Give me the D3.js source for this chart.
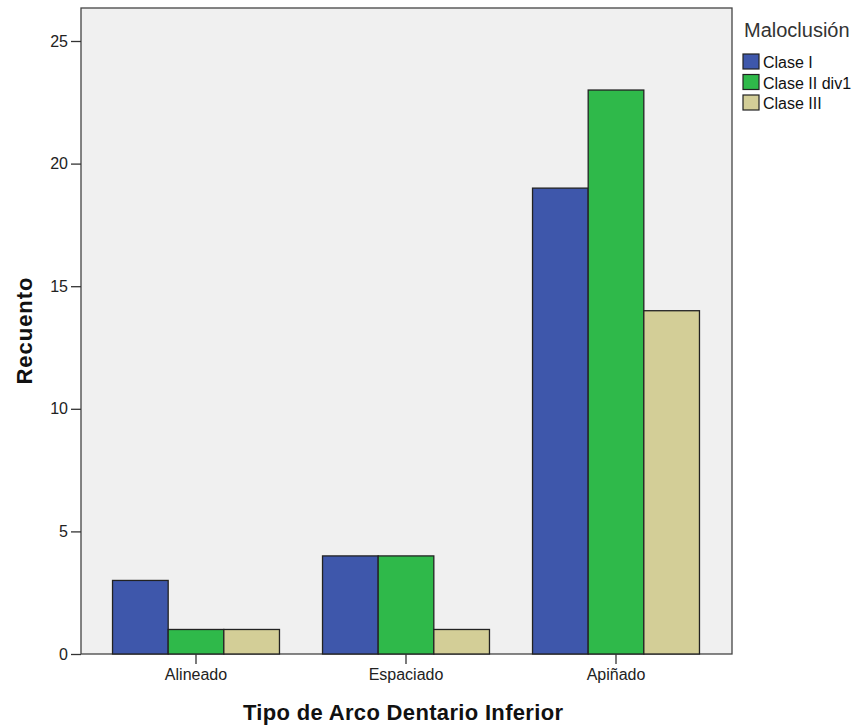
<!DOCTYPE html>
<html>
<head>
<meta charset="utf-8">
<script src="https://cdn.jsdelivr.net/npm/d3@7"></script>
<style>
  body { margin: 0; background: #fff; }
  text { font-family: Arial, "Liberation Sans", sans-serif; }
</style>
</head>
<body>
<svg id="chart" width="857" height="725"></svg>
<script>
// data
const categories = ['Alineado', 'Espaciado', 'Apiñado'];
const seriesNames = ['Clase I', 'Clase II div1', 'Clase III'];
const counts = {
    'Clase I': [3, 4, 19],
    'Clase II div1': [1, 4, 23],
    'Clase III': [1, 1, 14]
};
const yTicks = [0, 5, 10, 15, 20, 25];
const colors = ['#3e57ab', '#2fb94a', '#d3ce97'];

const svg = d3.select('#chart');
const frame = {left: 81, right: 732, top: 8, bottom: 654};

let x = d3.scaleBand()
    .domain(categories)
    .range([frame.left + 10, frame.right - 11])
    .paddingInner(0.205)
    .paddingOuter(0.1025);

let xInner = d3.scaleBand()
    .domain(seriesNames)
    .range([0, x.bandwidth()]);

let y = d3.scaleLinear()
    .domain([0, 25])
    .range([frame.bottom, 41]);

let color = d3.scaleOrdinal().domain(seriesNames).range(colors);

// plot background + frame
svg.append('rect')
    .attr('x', frame.left).attr('y', frame.top)
    .attr('width', frame.right - frame.left)
    .attr('height', frame.bottom - frame.top)
    .attr('fill', '#f0f0f0')
    .attr('stroke', '#444')
    .attr('stroke-width', 1.3);

// bars
let rows = [];
categories.forEach((cat, i) => {
    seriesNames.forEach((s) => rows.push({cat: cat, series: s, value: counts[s][i]}));
});

svg.append('g').selectAll('rect')
    .data(rows)
    .join('rect')
    .attr('x', (d) => x(d.cat) + xInner(d.series))
    .attr('y', (d) => y(d.value))
    .attr('width', xInner.bandwidth())
    .attr('height', (d) => y(0) - y(d.value))
    .attr('fill', (d) => color(d.series))
    .attr('stroke', '#222')
    .attr('stroke-width', 1.3);

// axes
let yAxis = svg.append('g')
    .attr('transform', `translate(${frame.left},0)`)
    .call(d3.axisLeft(y).tickValues(yTicks).tickSize(10).tickPadding(3));
yAxis.select('.domain').remove();

let xAxis = svg.append('g')
    .attr('transform', `translate(0,${frame.bottom})`)
    .call(d3.axisBottom(x).tickSize(10).tickPadding(5));
xAxis.select('.domain').remove();

svg.selectAll('.tick line').attr('stroke', '#333').attr('stroke-width', 1.3);
svg.selectAll('.tick text')
    .attr('fill', '#222')
    .style('font-size', '16px');

// axis titles
svg.append('text')
    .attr('x', 403).attr('y', 720)
    .attr('text-anchor', 'middle')
    .attr('textLength', 320)
    .attr('lengthAdjust', 'spacing')
    .style('font-size', '22px')
    .style('font-weight', 'bold')
    .attr('fill', '#111')
    .text('Tipo de Arco Dentario Inferior');

svg.append('text')
    .attr('transform', 'translate(32,331) rotate(-90)')
    .attr('text-anchor', 'middle')
    .attr('textLength', 107)
    .attr('lengthAdjust', 'spacing')
    .style('font-size', '22px')
    .style('font-weight', 'bold')
    .attr('fill', '#111')
    .text('Recuento');

// legend
svg.append('text')
    .attr('x', 744).attr('y', 37)
    .style('font-size', '20px')
    .attr('fill', '#333')
    .text('Maloclusión');

let legend = svg.append('g').selectAll('g')
    .data(seriesNames)
    .join('g')
    .attr('transform', (d, i) => `translate(743,${54 + i * 20.5})`);

legend.append('rect')
    .attr('width', 16).attr('height', 15)
    .attr('fill', (d) => color(d))
    .attr('stroke', '#222')
    .attr('stroke-width', 1.2);

legend.append('text')
    .attr('x', 20).attr('y', 14)
    .style('font-size', '16px')
    .attr('fill', '#111')
    .text((d) => d);
</script>
</body>
</html>
